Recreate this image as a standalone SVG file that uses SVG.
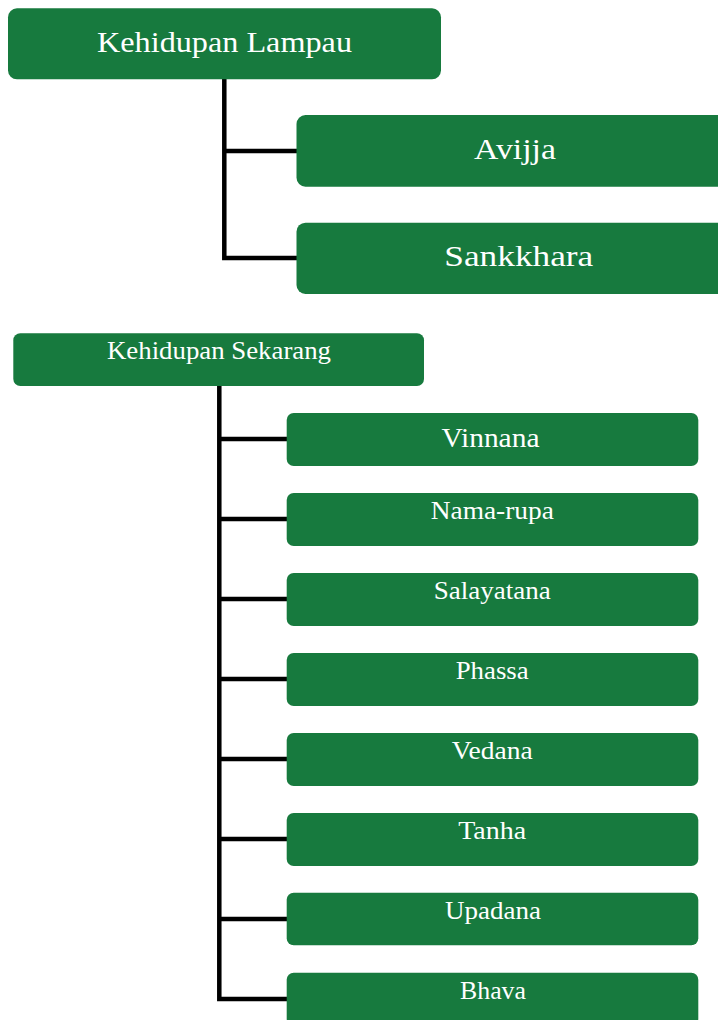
<svg xmlns="http://www.w3.org/2000/svg" width="718" height="1020" viewBox="0 0 718 1020">
  <style>
    .box { fill: #177a3e; }
    .lbl { font-family: "Liberation Serif", "DejaVu Serif", serif; fill: #ffffff; text-anchor: middle; }
    .wire { fill: none; stroke: #000000; stroke-width: 4.5; stroke-linejoin: miter; }
  </style>

  <!-- connectors -->
  <g id="connectors">
    <path class="wire" d="M224.3 79 V258 H297 M224.3 151 H297"/>
    <path class="wire" d="M219.3 386 V999 H288 M219.3 439 H288 M219.3 519 H288 M219.3 599 H288 M219.3 679 H288 M219.3 759 H288 M219.3 839 H288 M219.3 919 H288"/>
  </g>

  <!-- past life -->
  <g id="kehidupan-lampau">
    <rect class="box" x="8" y="8.3" width="433" height="71" rx="9"/>
    <text class="lbl" x="224.5" y="51.7" font-size="29.3" textLength="255" lengthAdjust="spacingAndGlyphs">Kehidupan Lampau</text>
  </g>
  <g id="avijja">
    <rect class="box" x="296.5" y="115" width="440" height="71.7" rx="9"/>
    <text class="lbl" x="515" y="159.3" font-size="30.2" textLength="82" lengthAdjust="spacingAndGlyphs">Avijja</text>
  </g>
  <g id="sankkhara">
    <rect class="box" x="296.5" y="222.7" width="440" height="71.3" rx="9"/>
    <text class="lbl" x="518.8" y="265.7" font-size="30.2" textLength="149" lengthAdjust="spacingAndGlyphs">Sankkhara</text>
  </g>

  <!-- present life -->
  <g id="kehidupan-sekarang">
    <rect class="box" x="13.3" y="333.3" width="410.7" height="52.7" rx="7"/>
    <text class="lbl" x="219" y="359" font-size="25.2" textLength="224" lengthAdjust="spacingAndGlyphs">Kehidupan Sekarang</text>
  </g>
  <g id="vinnana">
    <rect class="box" x="286.7" y="413" width="411.6" height="53" rx="7"/>
    <text class="lbl" x="490.5" y="447.3" font-size="27" textLength="98" lengthAdjust="spacingAndGlyphs">Vinnana</text>
  </g>
  <g id="nama-rupa">
    <rect class="box" x="286.7" y="493" width="411.6" height="53" rx="7"/>
    <text class="lbl" x="492.3" y="519.3" font-size="25.2" textLength="123" lengthAdjust="spacingAndGlyphs">Nama-rupa</text>
  </g>
  <g id="salayatana">
    <rect class="box" x="286.7" y="573" width="411.6" height="53" rx="7"/>
    <text class="lbl" x="492.3" y="599" font-size="25.2" textLength="117" lengthAdjust="spacingAndGlyphs">Salayatana</text>
  </g>
  <g id="phassa">
    <rect class="box" x="286.7" y="653" width="411.6" height="53" rx="7"/>
    <text class="lbl" x="492.2" y="679.3" font-size="25.2" textLength="73" lengthAdjust="spacingAndGlyphs">Phassa</text>
  </g>
  <g id="vedana">
    <rect class="box" x="286.7" y="733" width="411.6" height="53" rx="7"/>
    <text class="lbl" x="492.2" y="759" font-size="25.2" textLength="81" lengthAdjust="spacingAndGlyphs">Vedana</text>
  </g>
  <g id="tanha">
    <rect class="box" x="286.7" y="813" width="411.6" height="53" rx="7"/>
    <text class="lbl" x="492.2" y="839.3" font-size="25.2" textLength="68" lengthAdjust="spacingAndGlyphs">Tanha</text>
  </g>
  <g id="upadana">
    <rect class="box" x="286.7" y="892.7" width="411.6" height="52.6" rx="7"/>
    <text class="lbl" x="493" y="919" font-size="25.2" textLength="96" lengthAdjust="spacingAndGlyphs">Upadana</text>
  </g>
  <g id="bhava">
    <rect class="box" x="286.7" y="972.7" width="411.6" height="53" rx="7"/>
    <text class="lbl" x="493" y="998.5" font-size="25.2" textLength="66" lengthAdjust="spacingAndGlyphs">Bhava</text>
  </g>
</svg>
